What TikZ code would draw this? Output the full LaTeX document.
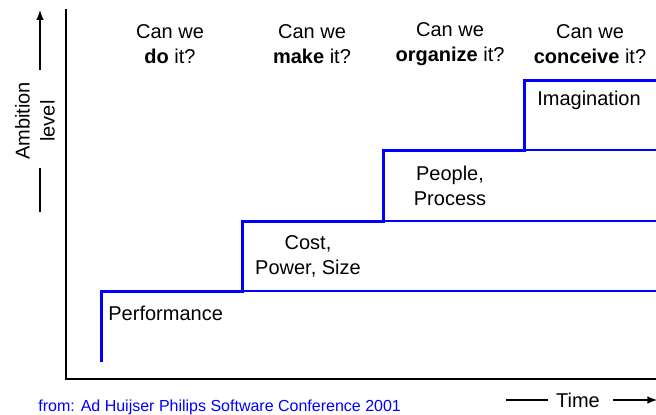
\documentclass[tikz,border=0pt]{standalone}
\usepackage{fontspec}
\setmainfont{Liberation Sans}
\begin{document}
\begin{tikzpicture}[x=0.5pt,y=-0.5pt,>=latex,
  lbl/.style={align=center,inner sep=0pt,font=\fontsize{10}{12.5}\selectfont},
  stair/.style={blue,line width=1.5pt},
  level/.style={blue,line width=0.7pt}]
\useasboundingbox (0,0) rectangle (656,414);
% axes
\draw[line width=0.7pt] (66,9) -- (66,379) -- (656,379);
% ambition levels
\draw[level] (242,291) -- (656,291);
\draw[level] (383,221) -- (656,221);
\draw[level] (524,150) -- (656,150);
\draw[stair] (101,362) -- (101,291) -- (242,291) -- (242,221) -- (383,221)
  -- (383,150) -- (524,150) -- (524,80) -- (656,80);
% questions
\node[lbl] (qdo) at (170,44) {Can we\\\textbf{do} it?};
\node[lbl] (qmake) at (312,44) {Can we\\\textbf{make} it?};
\node[lbl] (qorg) at (450,44) {Can we\\\textbf{organize} it?};
\node[lbl] (qconc) at (590,44) {Can we\\\textbf{conceive} it?};
% step labels
\node[lbl,anchor=west] (perf) at (108,313) {Performance};
\node[lbl] (cost) at (308,256) {Cost,\\Power, Size};
\node[lbl] (people) at (450,186) {People,\\Process};
\node[lbl] (imag) at (589,100) {Imagination};
% axis labels
\node[lbl,rotate=90] (amb) at (35,121) {Ambition\\level};
\draw[->,line width=0.7pt] (40,70) -- (40,10);
\draw[line width=0.7pt] (40,168) -- (40,212);
\node[lbl] (time) at (578,400) {Time};
\draw[line width=0.7pt] ([xshift=-4pt]time.west) -- ++(-42,0);
\draw[->,line width=0.7pt] ([xshift=6.5pt]time.east) -- ++(44,0);
\node[anchor=west,inner sep=0pt,blue,font=\fontsize{8}{10}\selectfont] (src) at (38,407)
  {from: Ad Huijser Philips Software Conference 2001};
\end{tikzpicture}
\end{document}
